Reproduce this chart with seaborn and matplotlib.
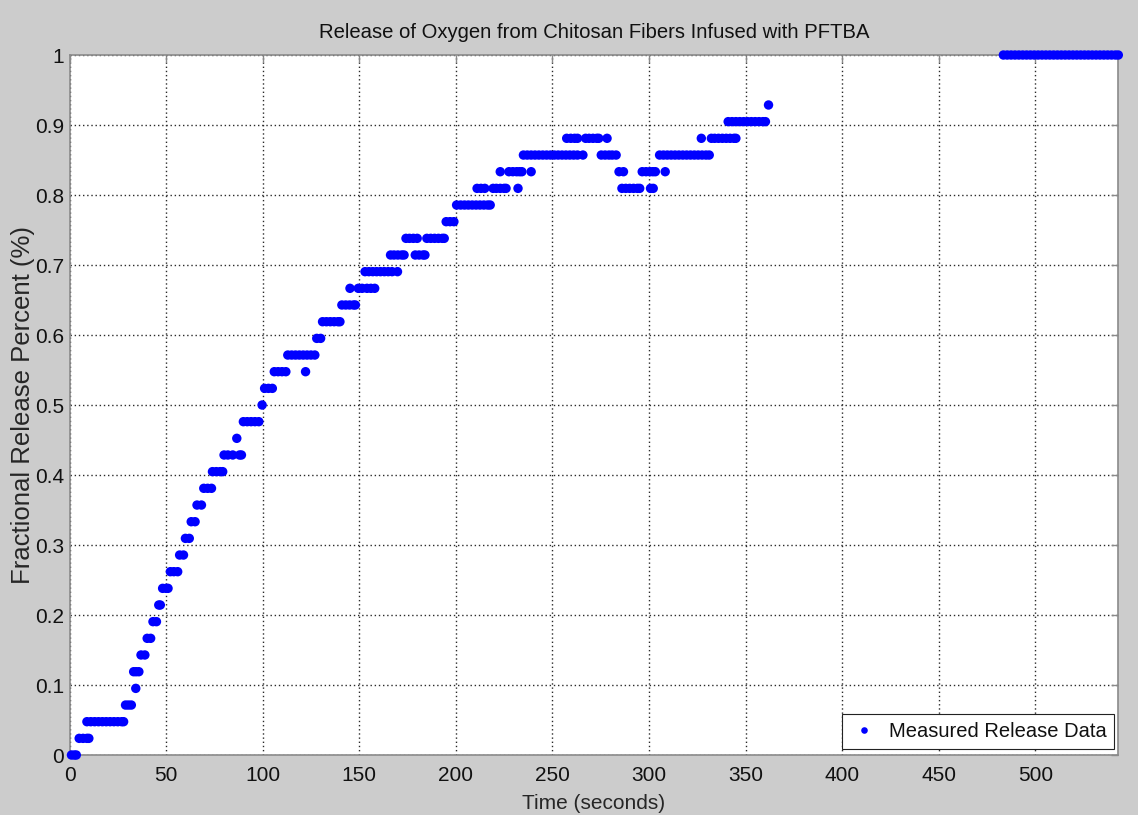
import matplotlib
matplotlib.use("Agg")
import matplotlib.pyplot as plt
import seaborn as sns
import pandas as pd

# Quantised release levels and the sample times (s) recorded at each level
level_values = [
    0.0, 0.0238, 0.0476, 0.0714, 0.0952, 0.1190, 0.1429, 0.1667, 0.1905, 0.2143,
    0.2381, 0.2619, 0.2857, 0.3095, 0.3333, 0.3571, 0.3810, 0.4048, 0.4286, 0.4524,
    0.4762, 0.5000, 0.5238, 0.5476, 0.5714, 0.5952, 0.6190, 0.6429, 0.6667, 0.6905,
    0.7143, 0.7381, 0.7619, 0.7857, 0.8095, 0.8333, 0.8571, 0.8810, 0.9048, 0.9286,
    1.0,
]
level_times = [
    [1, 2.5, 3.5],
    [5, 7, 9, 10],
    [9, 11, 13, 15, 17, 19, 21, 23, 25, 27, 28],
    [29, 30.5, 32],
    [34.3],
    [33.2, 34.5, 35.9],
    [37, 39],
    [40.2, 42],
    [43.2, 45],
    [46.2, 47],
    [48.2, 50, 51],
    [52.2, 54, 56],
    [57, 59],
    [60, 62],
    [63, 65],
    [66, 68.3],
    [69.5, 71.5, 73.5],
    [74, 76, 78, 79.3],
    [80, 82, 84.5, 88, 89],
    [86.6],
    [90, 92, 94, 96, 98],
    [99.7],
    [101, 103, 105],
    [106, 108, 110, 112, 122.2],
    [113, 115, 117, 119, 121, 123, 125, 127],
    [128, 130],
    [131, 133, 135, 137, 139, 140],
    [141, 143, 145, 147, 148],
    [145.2, 149.5, 151.5, 154, 156, 158],
    [153, 155, 157, 159, 161, 163, 165, 167, 169.8],
    [166.2, 168, 170, 172, 173.2, 179, 181, 183, 184],
    [174.2, 176, 178, 180, 185, 187, 189, 191, 193, 194],
    [195, 197, 199],
    [200.4, 202.5, 204.5, 206.5, 208.5, 210.5, 212.5, 214.5, 216.5, 217.8],
    [211, 213, 215, 219.3, 221, 223, 225, 226, 232.2,
     286, 288, 290, 292, 294, 295.2, 300.8, 302.2],
    [223, 227.5, 229.5, 231.5, 233, 234.2, 239,
     284.5, 286.8, 296.5, 298.5, 300.5, 302, 303.3, 308.4],
    [235, 237, 239, 241, 243, 245, 247, 249, 251, 253, 255, 257, 259, 261, 263, 265.8,
     275.3, 277.3, 279.3, 281, 283,
     305.5, 307.5, 309.5, 311.5, 313.5, 315.5, 317.5, 319.5, 321.5, 323.5, 325.5,
     327.5, 329.5, 331.2],
    [257.4, 259.5, 261.5, 263, 267.2, 269, 271, 273, 274, 278.3,
     327.1, 332.3, 334, 336, 338, 340, 342, 344, 345],
    [341, 343, 345, 347, 349, 351, 353, 355, 357, 359, 360.3],
    [361.9],
    [483.5, 485.5, 487.5, 489.5, 491.5, 493.5, 495.5, 497.5, 499.5, 501.5, 503.5,
     505.5, 507.5, 509.5, 511.5, 513.5, 515.5, 517.5, 519.5, 521.5, 523.5, 525.5,
     527.5, 529.5, 531.5, 533.5, 535.5, 537.5, 539.5, 541.5, 543],
]

x_ticks = [0, 50, 100, 150, 200, 250, 300, 350, 400, 450, 500]
y_ticks = [0, 0.1, 0.2, 0.3, 0.4, 0.5, 0.6, 0.7, 0.8, 0.9, 1]
y_tick_labels = ["0", "0.1", "0.2", "0.3", "0.4", "0.5", "0.6", "0.7", "0.8", "0.9", "1"]

title = "Release of Oxygen from Chitosan Fibers Infused with PFTBA"
x_label = "Time (seconds)"
y_label = "Fractional Release Percent (%)"
series_name = "Measured Release Data"

rows = [(t, lvl) for lvl, ts in zip(level_values, level_times) for t in ts]
df = pd.DataFrame(rows, columns=["time", "release"])
df["series"] = series_name

sns.set_style("white")
plt.rcParams["font.family"] = ["Liberation Sans", "DejaVu Sans"]
plt.rcParams["text.color"] = "#111111"

fig = plt.figure(figsize=(11.38, 8.15), dpi=100, facecolor="#cccccc")
ax = fig.add_axes([0.0611, 0.0736, 0.9216, 0.8589])
ax.set_facecolor("white")

sns.scatterplot(
    data=df, x="time", y="release", hue="series", palette=["#0000ff"],
    s=46, linewidth=0, marker="o", clip_on=False, zorder=3, ax=ax,
)

ax.set_xlim(0, 543)
ax.set_ylim(0, 1)
ax.set_xticks(x_ticks)
ax.set_xticklabels([str(v) for v in x_ticks])
ax.set_yticks(y_ticks)
ax.set_yticklabels(y_tick_labels)

ax.grid(True, color="#2a2a2a", linestyle=(0, (1, 2)), linewidth=1.0)
ax.set_axisbelow(True)

for sp in ax.spines.values():
    sp.set_color("#8a8a8a")
    sp.set_linewidth(1.2)
ax.tick_params(direction="in", length=5, width=1, color="#8a8a8a",
               top=True, right=True, labelsize=15, labelcolor="#111111")
ax.tick_params(axis="x", pad=8)
ax.tick_params(axis="y", pad=4)

ax.set_title(title, fontsize=14.6, pad=12)
ax.set_xlabel(x_label, fontsize=15)
ax.set_ylabel(y_label, fontsize=18.5)
ax.xaxis.set_label_coords(0.5, -0.055)
ax.yaxis.set_label_coords(-0.033, 0.5)

leg = ax.legend(
    loc="lower right", bbox_to_anchor=(1 - 4 / 1049, 6 / 700), borderaxespad=0,
    frameon=True, fancybox=False, framealpha=1, edgecolor="#222222",
    fontsize=14.5, markerscale=0.7, handletextpad=0.5, handlelength=1.4,
    borderpad=0.4,
)
leg.get_frame().set_linewidth(0.8)

fig.savefig("out.png", dpi=100, facecolor=fig.get_facecolor())
